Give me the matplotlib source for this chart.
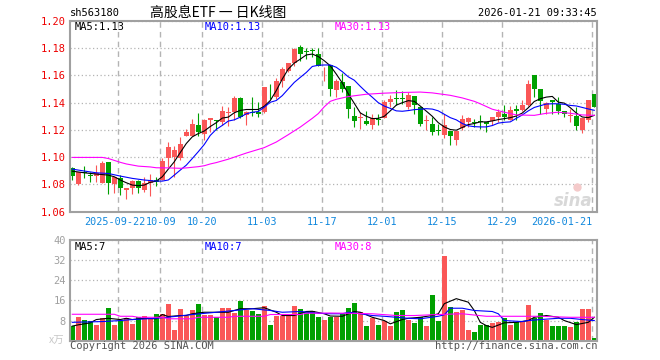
import numpy as np
import pandas as pd
import matplotlib
matplotlib.use('Agg')
import matplotlib.pyplot as plt
from matplotlib.transforms import blended_transform_factory

# trading days 2025-09-10 .. 2026-01-21, holidays removed
days = pd.bdate_range('2025-09-10', '2026-01-21')
holidays = pd.to_datetime(['2025-10-01', '2025-10-02', '2025-10-03', '2025-10-06',
                           '2025-10-07', '2025-10-08', '2026-01-01', '2026-01-02'])
days = days[~days.isin(holidays)]

opens = [1.0923, 1.0802, 1.0891, 1.0868, 1.0864, 1.0812, 1.0965, 1.0800, 1.0849, 1.0758,
         1.0775, 1.0825, 1.0758, 1.0812, 1.0830, 1.0832, 1.0993, 1.1000, 1.0993, 1.1153,
         1.1158, 1.1237, 1.1170, 1.1272, 1.1272, 1.1258, 1.1323, 1.1335, 1.1433, 1.1306,
         1.1335, 1.1330, 1.1330, 1.1503, 1.1440, 1.1562, 1.1635, 1.1688, 1.1810, 1.1775,
         1.1782, 1.1756, 1.1615, 1.1676, 1.1494, 1.1550, 1.1526, 1.1300, 1.1288, 1.1264,
         1.1239, 1.1280, 1.1290, 1.1405, 1.1432, 1.1432, 1.1368, 1.1449, 1.1368, 1.1268,
         1.1247, 1.1195, 1.1162, 1.1191, 1.1125, 1.1215, 1.1259, 1.1258, 1.1261, 1.1259,
         1.1264, 1.1295, 1.1320, 1.1271, 1.1356, 1.1344, 1.1380, 1.1604, 1.1497, 1.1356,
         1.1417, 1.1393, 1.1339, 1.1305, 1.1303, 1.1198, 1.1271, 1.1461]
highs = [1.0925, 1.0889, 1.0936, 1.0894, 1.0943, 1.0973, 1.0965, 1.0857, 1.0869, 1.0775,
         1.0832, 1.0830, 1.0857, 1.0877, 1.0857, 1.0993, 1.1109, 1.1079, 1.1148, 1.1210,
         1.1277, 1.1327, 1.1280, 1.1285, 1.1275, 1.1374, 1.1367, 1.1447, 1.1440, 1.1342,
         1.1445, 1.1403, 1.1513, 1.1537, 1.1579, 1.1659, 1.1695, 1.1805, 1.1824, 1.1805,
         1.1805, 1.1800, 1.1659, 1.1676, 1.1575, 1.1619, 1.1526, 1.1368, 1.1332, 1.1339,
         1.1320, 1.1320, 1.1417, 1.1453, 1.1490, 1.1485, 1.1478, 1.1449, 1.1370, 1.1308,
         1.1295, 1.1247, 1.1320, 1.1191, 1.1191, 1.1307, 1.1295, 1.1283, 1.1312, 1.1259,
         1.1295, 1.1351, 1.1380, 1.1376, 1.1380, 1.1417, 1.1563, 1.1604, 1.1497, 1.1405,
         1.1417, 1.1441, 1.1339, 1.1356, 1.1368, 1.1290, 1.1417, 1.1461]
lows = [1.0833, 1.0795, 1.0846, 1.0820, 1.0820, 1.0807, 1.0726, 1.0733, 1.0721, 1.0689,
        1.0726, 1.0733, 1.0746, 1.0716, 1.0790, 1.0832, 1.0926, 1.0857, 1.0980, 1.1153,
        1.1158, 1.1153, 1.1125, 1.1188, 1.1200, 1.1238, 1.1228, 1.1270, 1.1290, 1.1238,
        1.1299, 1.1294, 1.1325, 1.1428, 1.1428, 1.1513, 1.1622, 1.1671, 1.1708, 1.1720,
        1.1732, 1.1671, 1.1562, 1.1446, 1.1441, 1.1477, 1.1288, 1.1222, 1.1210, 1.1235,
        1.1210, 1.1235, 1.1288, 1.1368, 1.1380, 1.1393, 1.1356, 1.1320, 1.1227, 1.1198,
        1.1162, 1.1162, 1.1137, 1.1089, 1.1089, 1.1198, 1.1222, 1.1222, 1.1210, 1.1186,
        1.1235, 1.1259, 1.1271, 1.1271, 1.1271, 1.1339, 1.1376, 1.1441, 1.1320, 1.1320,
        1.1320, 1.1320, 1.1295, 1.1259, 1.1198, 1.1174, 1.1259, 1.1368]
closes = [1.0864, 1.0889, 1.0880, 1.0860, 1.0883, 1.0960, 1.0812, 1.0857, 1.0775, 1.0775,
          1.0825, 1.0775, 1.0812, 1.0832, 1.0820, 1.0973, 1.1072, 1.1054, 1.1099, 1.1183,
          1.1240, 1.1185, 1.1275, 1.1285, 1.1262, 1.1342, 1.1335, 1.1433, 1.1294, 1.1335,
          1.1325, 1.1320, 1.1513, 1.1498, 1.1562, 1.1647, 1.1688, 1.1798, 1.1756, 1.1771,
          1.1778, 1.1671, 1.1620, 1.1497, 1.1557, 1.1502, 1.1354, 1.1266, 1.1298, 1.1242,
          1.1288, 1.1276, 1.1405, 1.1429, 1.1428, 1.1427, 1.1453, 1.1380, 1.1247, 1.1272,
          1.1186, 1.1190, 1.1235, 1.1154, 1.1191, 1.1283, 1.1288, 1.1250, 1.1256, 1.1247,
          1.1295, 1.1332, 1.1295, 1.1344, 1.1339, 1.1380, 1.1539, 1.1497, 1.1410, 1.1400,
          1.1405, 1.1339, 1.1320, 1.1310, 1.1230, 1.1288, 1.1417, 1.1368]
# volume, 10k lots
volumes = [6.0, 9.6, 8.4, 8.0, 6.4, 9.2, 12.9, 6.4, 7.9, 9.2,
           6.8, 9.3, 10.0, 9.1, 10.8, 10.8, 14.4, 4.4, 12.4, 10.0,
           12.1, 14.4, 10.4, 10.4, 9.6, 12.9, 12.9, 10.9, 15.7, 12.0,
           11.7, 10.8, 13.6, 6.4, 10.0, 10.0, 10.0, 13.6, 12.4, 11.3,
           11.7, 9.6, 8.4, 9.6, 9.3, 10.7, 12.9, 14.8, 11.3, 6.0,
           8.9, 6.4, 8.0, 5.7, 11.3, 12.0, 8.4, 7.2, 9.6, 6.0,
           18.0, 8.0, 33.7, 13.3, 11.3, 12.0, 4.4, 3.6, 6.4, 6.4,
           6.9, 7.6, 8.9, 6.4, 7.6, 8.0, 14.0, 8.9, 10.9, 8.4,
           5.7, 5.7, 6.0, 5.6, 7.3, 12.4, 12.4, 0.9]

# moving average lines (day index, value)
ma5_x = [0, 2, 4] + list(range(6, 88))
ma5_v = [1.0897, 1.0885, 1.0876, 1.0868, 1.0856, 1.0832, 1.0812, 1.0795, 1.0790, 1.0795,
         1.0815, 1.0824, 1.0856, 1.0912, 1.0966, 1.1034, 1.1100, 1.1149, 1.1173, 1.1192,
         1.1225, 1.1253, 1.1287, 1.1294, 1.1326, 1.1343, 1.1350, 1.1350, 1.1350, 1.1374,
         1.1416, 1.1489, 1.1574, 1.1647, 1.1691, 1.1720, 1.1751, 1.1757, 1.1739, 1.1708,
         1.1671, 1.1610, 1.1545, 1.1465, 1.1395, 1.1325, 1.1300, 1.1283, 1.1285, 1.1300,
         1.1340, 1.1382, 1.1400, 1.1415, 1.1410, 1.1375, 1.1338, 1.1300, 1.1253, 1.1222,
         1.1203, 1.1198, 1.1218, 1.1239, 1.1247, 1.1259, 1.1259, 1.1266, 1.1276, 1.1283,
         1.1290, 1.1302, 1.1324, 1.1363, 1.1409, 1.1429, 1.1441, 1.1446, 1.1404, 1.1397,
         1.1363, 1.1324, 1.1295, 1.1290, 1.1307]
ma10_x = [0, 2, 4, 6, 8, 10, 12, 14] + list(range(15, 88))
ma10_v = [1.0912, 1.0898, 1.0885, 1.0880, 1.0861, 1.0844, 1.0832, 1.0824,
          1.0824, 1.0832, 1.0868, 1.0905, 1.0941, 1.0990, 1.1040, 1.1093, 1.1160, 1.1204,
          1.1233, 1.1265, 1.1274, 1.1294, 1.1318, 1.1330, 1.1335, 1.1367, 1.1403, 1.1416,
          1.1452, 1.1501, 1.1549, 1.1586, 1.1622, 1.1666, 1.1675, 1.1677, 1.1677, 1.1660,
          1.1628, 1.1590, 1.1565, 1.1520, 1.1478, 1.1440, 1.1400, 1.1375, 1.1358, 1.1340,
          1.1337, 1.1342, 1.1349, 1.1352, 1.1356, 1.1353, 1.1340, 1.1315, 1.1290, 1.1274,
          1.1247, 1.1230, 1.1224, 1.1222, 1.1222, 1.1232, 1.1250, 1.1256, 1.1259, 1.1285,
          1.1310, 1.1340, 1.1365, 1.1378, 1.1390, 1.1392, 1.1392, 1.1388, 1.1380, 1.1376,
          1.1365, 1.1354, 1.1344]
ma30_x = [0, 5, 6, 8, 9, 11, 13, 14, 16, 18, 19, 21, 22, 23, 24, 26, 29, 32, 34, 36,
          38, 40, 41, 42, 43, 44, 46, 49, 52, 55, 58, 60, 62, 63, 65, 67, 68, 70, 72, 74,
          77, 79, 81, 83, 85, 87]
ma30_v = [1.0998, 1.0998, 1.0990, 1.0962, 1.0950, 1.0934, 1.0928, 1.0922, 1.0921, 1.0918,
          1.0921, 1.0930, 1.0937, 1.0950, 1.0960, 1.0985, 1.1030, 1.1070, 1.1111, 1.1165,
          1.1221, 1.1285, 1.1320, 1.1370, 1.1410, 1.1425, 1.1445, 1.1462, 1.1470, 1.1475,
          1.1478, 1.1472, 1.1460, 1.1454, 1.1435, 1.1410, 1.1392, 1.1352, 1.1330, 1.1310,
          1.1307, 1.1322, 1.1330, 1.1322, 1.1310, 1.1307]

vma5_x = [0, 1, 3, 4, 6, 8, 9, 10, 12, 14, 15, 16, 18, 19, 20, 22, 24, 26, 28, 30,
          32, 34, 35, 37, 39, 40, 42, 43, 45, 47, 48, 50, 52, 53, 55, 56, 58, 60, 61, 62,
          64, 66, 67, 68, 69, 70, 72, 74, 76, 77, 79, 81, 82, 84, 86, 87]
vma5_v = [5.8, 6.3, 7.1, 8.4, 8.9, 8.4, 8.9, 8.4, 8.9, 8.7, 10.4, 9.6, 10.0, 10.0, 10.7,
          11.3, 11.3, 11.3, 12.7, 12.7, 13.1, 11.3, 10.0, 10.0, 11.6, 11.7, 10.7, 9.8, 9.7,
          11.6, 11.3, 9.3, 8.0, 6.7, 8.4, 8.9, 9.3, 10.0, 10.7, 14.7, 16.7, 15.3, 12.0, 7.3,
          6.0, 5.3, 7.1, 7.3, 8.0, 9.3, 10.0, 9.3, 8.0, 6.4, 7.3, 9.3]
vma10_x = [0, 5, 8, 10, 14, 17, 20, 24, 27, 30, 33, 35, 38, 41, 43, 45, 46, 48, 50, 52,
           54, 56, 58, 61, 62, 63, 65, 67, 70, 71, 72, 75, 76, 78, 81, 83, 85, 87]
vma10_v = [7.3, 7.6, 8.0, 8.4, 8.9, 9.6, 10.4, 11.3, 12.0, 12.7, 12.0, 11.3, 11.6, 10.9,
           10.7, 10.7, 11.3, 10.7, 10.0, 9.7, 9.3, 8.9, 8.7, 9.7, 10.3, 12.9, 12.9, 12.0,
           11.6, 10.7, 8.0, 7.6, 8.0, 8.4, 8.9, 8.9, 8.4, 8.0]
vma30_x = [0, 7, 8, 10, 11, 15, 16, 20, 21, 26, 27, 32, 33, 38, 39, 43, 46, 50, 54, 57,
           61, 65, 69, 78, 83, 87]
vma30_v = [10.5, 10.5, 9.7, 9.7, 9.3, 9.3, 8.7, 8.7, 9.3, 9.3, 9.7, 9.7, 10.4, 10.4, 10.9,
           11.0, 10.9, 10.7, 10.0, 10.0, 10.4, 10.7, 9.7, 9.7, 9.3, 9.3]

tick_dates = ['2025-09-22', '2025-10-09', '2025-10-20', '2025-11-03', '2025-11-17',
              '2025-12-01', '2025-12-15', '2025-12-29', '2026-01-21']
tick_labels = ['2025-09-22', '10-09', '10-20', '11-03', '11-17', '12-01', '12-15',
               '12-29', '2026-01-21']
price_ticks = [1.06, 1.08, 1.10, 1.12, 1.14, 1.16, 1.18, 1.20]
vol_ticks = [8, 16, 24, 32, 40]

RED = '#fa5757'
GREEN = '#00a000'
GRID = '#b4b4b4'
FRAME = '#a0a0a0'
MONO = 'DejaVu Sans Mono'
CJK = ['Noto Sans CJK SC', 'DejaVu Sans']

W, H = 660, 360
fig = plt.figure(figsize=(6.6, 3.6), dpi=100)
fig.patch.set_facecolor('white')


def px(x0, y0, x1, y1):
    return [x0 / W, 1 - y1 / H, (x1 - x0) / W, (y1 - y0) / H]


ax = fig.add_axes(px(70, 21, 597, 211.6))
axv = fig.add_axes(px(70, 240, 597, 340.7))

x = np.arange(len(closes))
o, h, l, c = map(np.array, (opens, highs, lows, closes))
col = np.where(c >= o, RED, GREEN)
grid_x = [days.get_loc(pd.Timestamp(d)) - 0.33 for d in tick_dates]

for a in (ax, axv):
    a.set_xlim(-0.38, 87.45)
    a.set_axisbelow(True)
    for s in a.spines.values():
        s.set_color(FRAME)
        s.set_linewidth(1.5)
    a.set_xticks(grid_x)
    a.set_xticklabels([])
    a.tick_params(length=0)
    a.grid(axis='x', color=GRID, lw=1, ls=(0, (4, 3)))
    a.grid(axis='y', color=GRID, lw=0.9, ls=(0, (1, 2)))

# candles
ax.vlines(x, l, h, colors=col, lw=0.8)
body = np.maximum(np.abs(c - o), 0.0006)
ax.bar(x, body, bottom=np.minimum(o, c), width=0.8, color=col, lw=0)
ax.plot(ma5_x, ma5_v, color='black', lw=0.8)
ax.plot(ma10_x, ma10_v, color='#0000ff', lw=0.8)
ax.plot(ma30_x, ma30_v, color='#ff00ff', lw=0.8)
ax.set_ylim(1.06, 1.20)
ax.set_yticks(price_ticks)
ax.set_yticklabels(['%.2f' % p for p in price_ticks], family=MONO, fontsize=7.5, color='#ee0000')
ax.tick_params(axis='y', pad=3)

# date labels: first two squeezed apart a little, last one kept inside the frame
tr = blended_transform_factory(ax.transData, ax.transAxes)
shift = [-0.55, 0.15, 0, 0, 0, 0, 0, 0, 0]
for i, (g, lab) in enumerate(zip(grid_x, tick_labels)):
    ha = 'right' if i == len(tick_labels) - 1 else 'center'
    ax.text(g + shift[i], -0.053, lab, transform=tr, ha=ha, va='center', family=MONO,
            fontsize=7.3, color='#1188dd')

# sina watermark
ax.plot([0.962], [0.13], transform=ax.transAxes, marker='o', ms=6, color='#f4caca', mec='none')
ax.text(0.955, 0.055, 'sina', transform=ax.transAxes, family='DejaVu Sans', fontsize=12,
        style='italic', weight='bold', color='#d8d8d8', ha='center', va='center')

# volume
axv.bar(x, volumes, width=0.8, color=col, lw=0)
axv.plot(vma5_x, vma5_v, color='black', lw=0.8)
axv.plot(vma10_x, vma10_v, color='#0000ff', lw=0.8)
axv.plot(vma30_x, vma30_v, color='#ff00ff', lw=0.8)
axv.set_ylim(0, 40)
axv.set_yticks(vol_ticks)
axv.set_yticklabels([str(v) for v in vol_ticks], family=MONO, fontsize=7.5, color='#a0a0a0')
axv.tick_params(axis='y', pad=3)


def ftext(xp, yp, s, **kw):
    kw.setdefault('family', MONO)
    kw.setdefault('fontsize', 7.5)
    kw.setdefault('va', 'center')
    fig.text(xp / W, 1 - yp / H, s, **kw)


ftext(70, 13, 'sh563180')
ftext(150, 13, '高股息ETF 一 日K线图', family=CJK, fontsize=10)
ftext(597, 13, '2026-01-21 09:33:45', ha='right')
ftext(75, 27, 'MA5:1.13', color='black')
ftext(205, 27, 'MA10:1.13', color='#0000ff')
ftext(335, 27, 'MA30:1.13', color='#ff00ff')
ftext(75, 246.5, 'MA5:7', color='black')
ftext(205, 246.5, 'MA10:7', color='#0000ff')
ftext(335, 246.5, 'MA30:8', color='#ff00ff')
ftext(64, 341, 'x万', family=CJK, fontsize=7.5, color='#c8c8c8', ha='right')
ftext(70, 346, 'Copyright 2026 SINA.COM', color='#555555')
ftext(597, 346, 'http://finance.sina.com.cn', color='#555555', ha='right')

fig.savefig('out.png', dpi=100)
